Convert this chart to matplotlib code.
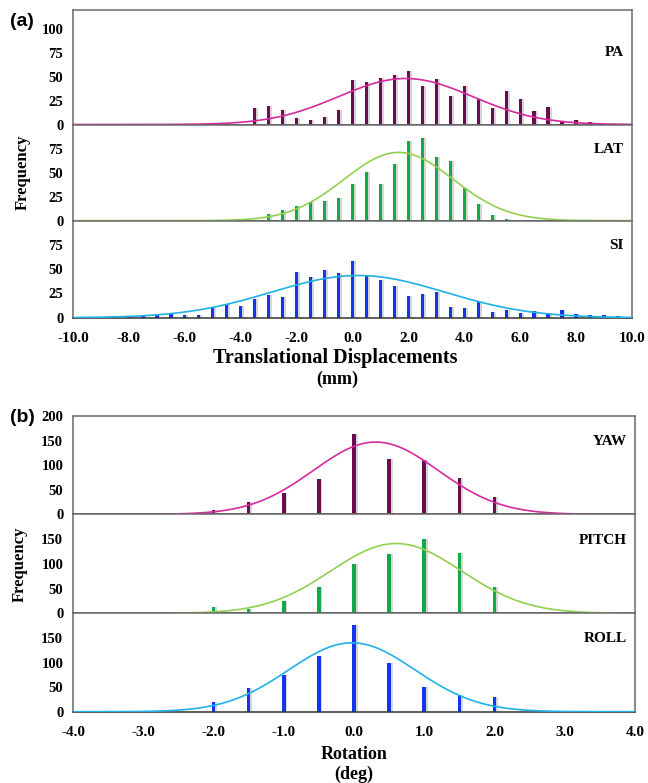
import numpy as np
import matplotlib
matplotlib.use('Agg')
import matplotlib.pyplot as plt

plt.rcParams['font.family'] = ['Liberation Serif', 'DejaVu Serif']
plt.rcParams['font.weight'] = 'bold'

# ---- panel (a): translational displacements (mm) ----
pa_pos = [-4.5, -4.0, -3.5, -3.0, -2.5, -2.0, -1.5, -1.0, -0.5, 0.0, 0.5, 1.0, 1.5, 2.0,
          2.5, 3.0, 3.5, 4.0, 4.5, 5.0, 5.5, 6.0, 6.5, 7.0, 7.5, 8.0, 8.5]
pa_freq = [1, 0, 17, 19, 15, 7, 5, 8, 15, 46, 44, 49, 52, 56,
           40, 48, 30, 40, 27, 17, 35, 27, 14, 18, 4, 5, 3]

lat_pos = [-3.5, -3.0, -2.5, -2.0, -1.5, -1.0, -0.5, 0.0, 0.5, 1.0, 1.5, 2.0,
           2.5, 3.0, 3.5, 4.0, 4.5, 5.0, 5.5]
lat_freq = [1, 7, 11, 15, 19, 20, 24, 38, 51, 38, 59, 83,
            86, 66, 62, 34, 17, 6, 1.5]

si_pos = [-9.5, -9.0, -8.5, -8.0, -7.5, -7.0, -6.5, -6.0, -5.5, -5.0, -4.5, -4.0, -3.5,
          -3.0, -2.5, -2.0, -1.5, -1.0, -0.5, 0.0, 0.5, 1.0, 1.5, 2.0, 2.5, 3.0,
          3.5, 4.0, 4.5, 5.0, 5.5, 6.0, 6.5, 7.0, 7.5, 8.0, 8.5, 9.0, 9.5]
si_freq = [1, 0.5, 2, 1, 2, 3, 3.5, 2.5, 3, 11.5, 14, 12.5, 19.5,
           23, 21, 47.5, 42, 49, 46, 58.5, 43, 38.5, 32.5, 22, 24.5, 26.5,
           11.5, 10, 16, 5.5, 8, 4.5, 7, 4.5, 8, 3.5, 2.5, 3, 1.5]

# ---- panel (b): rotations (deg) ----
rot_pos = [-2.0, -1.5, -1.0, -0.5, 0.0, 0.5, 1.0, 1.5, 2.0]
yaw_freq = [9, 25, 44, 71.5, 163, 113, 110, 73, 35]
pitch_freq = [12, 9.5, 25.5, 53, 100, 120, 151, 122, 53]
roll_freq = [19, 48, 74, 114, 177, 99, 51, 33, 29]

# fitted normal curves: (mean, sd, peak height)
pa_fit = (1.9, 2.4, 48)
lat_fit = (1.65, 1.95, 71)
si_fit = (0.2, 3.1, 43.5)
yaw_fit = (0.31, 0.89, 147)
pitch_fit = (0.6, 0.93, 141)
roll_fit = (-0.03, 0.9, 140)

maroon, magenta = '#6c0b4d', '#d62a9e'
green, lightgreen = '#13a84a', '#92d050'
blue, cyan = '#1634f0', '#1eb2e8'

fig = plt.figure(figsize=(6.48, 7.83), dpi=100)
W, H = 648, 783


def px_axes(left, top, right, bottom):
    return fig.add_axes([left / W, 1 - bottom / H, (right - left) / W, (bottom - top) / H])


def draw(ax, pos, freq, fit, xlim, ylim, yticks, barcol, curvecol, name, width, shadow):
    pos = np.array(pos)
    # soft drop shadow to the right of each bar
    ax.bar(pos + shadow, freq, width=width, color='#9a9a9a', alpha=0.4, zorder=1, linewidth=0)
    ax.bar(pos, freq, width=width, color=barcol, zorder=2, linewidth=0)
    xs = np.linspace(xlim[0], xlim[1], 400)
    m, s, p = fit
    ax.plot(xs, p * np.exp(-(xs - m) ** 2 / (2 * s ** 2)), color=curvecol, lw=1.2, zorder=3)
    ax.set_xlim(xlim)
    ax.set_ylim(ylim)
    ax.set_yticks(yticks)
    ax.tick_params(length=0, labelsize=10.5, pad=7)
    for sp in ax.spines.values():
        sp.set_color('#6a6a6a')
        sp.set_linewidth(1.1)
    ax.spines['bottom'].set_color('#333333')
    ax.text(0.985, 0.74 if ylim[1] != 120 else 0.63, name, transform=ax.transAxes,
            ha='right', va='center', fontsize=11, fontweight='bold')


# panel (a)
ax_pa = px_axes(73, 9.5, 632, 124.5)
ax_lat = px_axes(73, 124.5, 632, 220.7)
ax_si = px_axes(73, 220.7, 632, 317.7)
draw(ax_pa, pa_pos, pa_freq, pa_fit, (-10, 10), (0, 120), [0, 25, 50, 75, 100],
     maroon, magenta, 'PA', 0.12, 0.06)
draw(ax_lat, lat_pos, lat_freq, lat_fit, (-10, 10), (0, 100), [0, 25, 50, 75],
     green, lightgreen, 'LAT', 0.12, 0.06)
draw(ax_si, si_pos, si_freq, si_fit, (-10, 10), (0, 100), [0, 25, 50, 75],
     blue, cyan, 'SI', 0.12, 0.06)
for ax in (ax_pa, ax_lat):
    ax.set_xticks([])
ax_si.set_xticks(np.arange(-10, 10.1, 2))
ax_si.set_xticklabels([f'{v:.1f}' for v in np.arange(-10, 10.1, 2)], fontsize=11)
ax_si.tick_params(axis='x', pad=10)
# x label of panel (a) sits a little left of the axes centre in the original
fig.text(335 / W, 1 - 358 / H, 'Translational Displacements', fontsize=14.5,
         fontweight='bold', ha='center', va='center')
fig.text(337 / W, 1 - 379 / H, '(mm)', fontsize=13, fontweight='bold',
         ha='center', va='center')
ax_lat.set_ylabel('Frequency', fontsize=12, fontweight='bold', labelpad=13)

# panel (b)
ax_yaw = px_axes(73, 416, 635, 514.3)
ax_pitch = px_axes(73, 514.3, 635, 613.3)
ax_roll = px_axes(73, 613.3, 635, 711.7)
draw(ax_yaw, rot_pos, yaw_freq, yaw_fit, (-4, 4), (0, 200), [0, 50, 100, 150, 200],
     maroon, magenta, 'YAW', 0.05, 0.025)
draw(ax_pitch, rot_pos, pitch_freq, pitch_fit, (-4, 4), (0, 200), [0, 50, 100, 150],
     green, lightgreen, 'PITCH', 0.05, 0.025)
draw(ax_roll, rot_pos, roll_freq, roll_fit, (-4, 4), (0, 200), [0, 50, 100, 150],
     blue, cyan, 'ROLL', 0.05, 0.025)
for ax in (ax_yaw, ax_pitch):
    ax.set_xticks([])
ax_roll.set_xticks(np.arange(-4, 4.1, 1))
ax_roll.set_xticklabels([f'{v:.1f}' for v in np.arange(-4, 4.1, 1)], fontsize=11)
ax_roll.tick_params(axis='x', pad=10)
ax_roll.set_xlabel('Rotation\n(deg)', fontsize=13, fontweight='bold', linespacing=1.25, labelpad=5)
ax_pitch.set_ylabel('Frequency', fontsize=12, fontweight='bold', labelpad=10)

fig.text(10 / W, 1 - 21 / H, '(a)', fontsize=14, fontweight='bold',
         family=['Liberation Sans', 'DejaVu Sans'], va='center')
fig.text(10 / W, 1 - 417 / H, '(b)', fontsize=14, fontweight='bold',
         family=['Liberation Sans', 'DejaVu Sans'], va='center')

fig.savefig('out.png', dpi=100)
